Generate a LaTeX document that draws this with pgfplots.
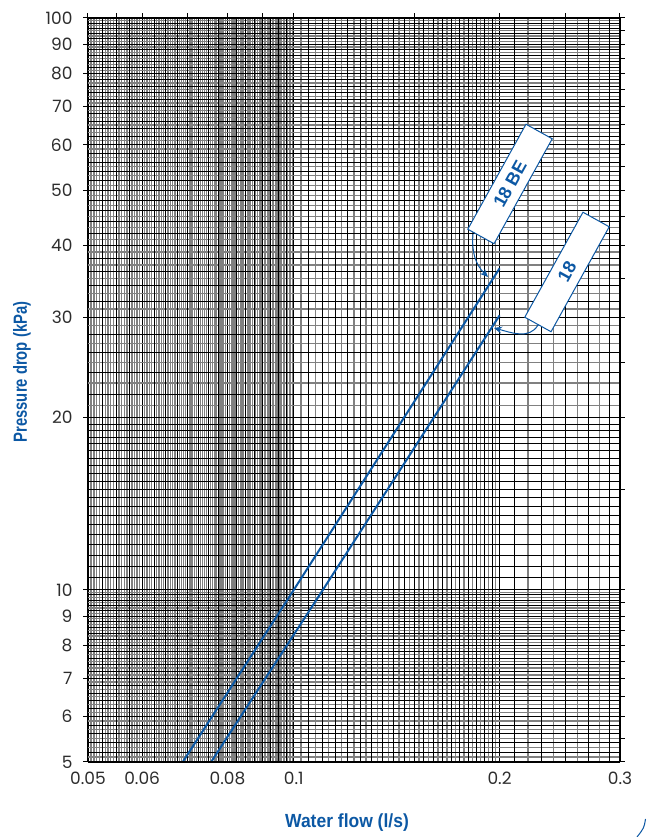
\documentclass[border=0pt]{standalone}
\usepackage{pgfplots}
\pgfplotsset{compat=1.18}
\usepackage{fontspec}
\usetikzlibrary{arrows.meta}
\setmainfont{Poppins}
\newfontfamily\labfont[FakeStretch=0.78]{Liberation Sans}
\newfontfamily\xlabfont[FakeStretch=0.92]{Liberation Sans}
\newfontfamily\boxfont{Liberation Sans}
\definecolor{wblue}{RGB}{12,88,164}
\definecolor{ticktext}{RGB}{45,45,45}

\begin{document}
\begin{tikzpicture}
\path[use as bounding box] (-88pt,-75pt) rectangle (560pt,762pt);
\begin{axis}[
  at={(0pt,0pt)}, anchor=south west,
  scale only axis, width=532pt, height=744pt,
  xmode=log, ymode=log,
  xmin=0.05, xmax=0.3, ymin=5, ymax=100,
  xtick={0.05,0.06,0.08,0.1,0.2,0.3},
  xticklabels={0.05,0.06,0.08,0.1,0.2,0.3},
  ytick={5,6,7,8,9,10,20,30,40,50,60,70,80,90,100},
  yticklabels={5,6,7,8,9,10,20,30,40,50,60,70,80,90,100},
  major tick length=0pt, minor tick length=0pt,
  tick label style={font=\fontsize{17}{17}\selectfont, text=ticktext},
  xticklabel style={yshift=-6pt},
  yticklabel style={xshift=-12pt},
  grid=both,
  major grid style={black, line width=0.9pt},
  minor grid style={black!50, line width=1.3pt},
  axis line style={black, line width=1pt},
  minor xtick={
    0.0505,0.051,0.0515,0.052,0.053,0.0535,0.054,0.0545,
    0.0555,0.056,0.0565,0.057,0.058,0.0585,0.059,0.0595,
    0.0605,0.061,0.0615,0.062,0.063,0.0635,0.064,0.0645,
    0.0655,0.066,0.0665,0.067,0.068,0.0685,0.069,0.0695,
    0.0705,0.071,0.0715,0.072,0.073,0.0735,0.074,0.0745,
    0.0755,0.076,0.0765,0.077,0.078,0.0785,0.079,0.0795,
    0.0805,0.081,0.0815,0.082,0.083,0.0835,0.084,0.0845,
    0.0855,0.086,0.0865,0.087,0.088,0.0885,0.089,0.0895,
    0.0905,0.091,0.0915,0.092,0.093,0.0935,0.094,0.0945,
    0.0955,0.096,0.0965,0.097,0.098,0.0985,0.099,0.0995,
    0.1025,0.1075,0.1125,0.1175,0.1225,0.1275,0.1325,0.1375,0.1425,0.1475,
    0.1525,0.1575,0.1625,0.1675,0.1725,0.1775,0.1825,0.1875,0.1925,0.1975,
    0.22,0.24,0.26,0.28},
  minor ytick={
    5.1,5.3,5.5,5.7,5.9,6.1,6.3,6.5,6.7,6.9,7.1,7.3,7.5,7.7,7.9,
    8.1,8.3,8.5,8.7,8.9,9.1,9.3,9.5,9.7,9.9,
    21,23,25,27,29,31,33,35,37,39,41,43,45,47,49,51,53,55,57,59,
    61,63,65,67,69,71,73,75,77,79,81,83,85,87,89,91,93,95,97,99},
  extra x ticks={
    0.0525,0.055,0.0575,0.0625,0.065,0.0675,0.07,0.0725,0.075,0.0775,
    0.0825,0.085,0.0875,0.09,0.0925,0.095,0.0975,
    0.105,0.11,0.115,0.12,0.125,0.13,0.135,0.14,0.145,0.15,
    0.155,0.16,0.165,0.17,0.175,0.18,0.185,0.19,0.195,
    0.21,0.23,0.25,0.27,0.29},
  extra x tick style={grid=major, xticklabel={\relax}},
  extra y ticks={
    5.2,5.4,5.6,5.8,6.2,6.4,6.6,6.8,7.2,7.4,7.6,7.8,8.2,8.4,8.6,8.8,9.2,9.4,9.6,9.8,
    10.5,11,11.5,12,12.5,13,13.5,14,14.5,15,15.5,16,16.5,17,17.5,18,18.5,19,19.5,
    22,24,26,28,32,34,36,38,42,44,46,48,52,54,56,58,62,64,66,68,
    72,74,76,78,82,84,86,88,92,94,96,98},
  extra y tick style={grid=major, yticklabel={\relax}},
]
% 18 BE
\addplot[wblue, line width=2pt] coordinates {(0.0688,5) (0.1,10) (0.2,36.5)};
% 18
\addplot[wblue, line width=2pt] coordinates {(0.0757,5) (0.1103,10) (0.2,30.2)};
\end{axis}
% tick marks: left and top
\begin{axis}[
  at={(0pt,0pt)}, anchor=south west,
  scale only axis, width=532pt, height=744pt,
  xmode=log, ymode=log,
  xmin=0.05, xmax=0.3, ymin=5, ymax=100,
  axis line style={black, line width=1pt},
  xtick={0.05,0.055,0.06,0.07,0.08,0.09,0.1,0.15,0.2,0.25,0.3},
  ytick={5,6,7,8,9,10,20,30,40,50,60,70,80,90,100},
  xtick pos=right, ytick pos=left,
  xticklabel={\relax}, yticklabel={\relax},
  minor xtick={}, minor ytick={},
  tick align=outside, major tick length=5pt,
  tick style={black, line width=1pt},
]
\end{axis}
% tick marks: right
\begin{axis}[
  at={(0pt,0pt)}, anchor=south west,
  scale only axis, width=532pt, height=744pt,
  xmode=log, ymode=log,
  xmin=0.05, xmax=0.3, ymin=5, ymax=100,
  axis line style={draw=none},
  xtick=\empty,
  ytick={5,5.5,6,6.5,7,7.5,8,8.5,9,9.5,10,15,20,25,30,35,40,45,50,55,60,65,70,75,80,85,90,95,100},
  ytick pos=right,
  yticklabel={\relax},
  minor ytick={},
  tick align=outside, major tick length=5pt,
  tick style={black, line width=1pt},
]
\end{axis}
% axis titles
\node[font=\xlabfont\bfseries\fontsize{19}{19}\selectfont, text=wblue] at (259pt,-61pt) {Water flow (l/s)};
\node[rotate=90, font=\labfont\bfseries\fontsize{19}{19}\selectfont, text=wblue] at (-66pt,390pt) {Pressure drop (kPa)};
% callouts
\node[draw=wblue, fill=white, line width=1pt, rotate=61, minimum width=120pt, minimum height=30pt,
      inner sep=0pt, text=wblue, font=\boxfont\bfseries\fontsize{18}{18}\selectfont] at (422pt,578pt) {18 BE};
\node[draw=wblue, fill=white, line width=1pt, rotate=61, minimum width=120pt, minimum height=30pt,
      inner sep=0pt, text=wblue, font=\boxfont\bfseries\fontsize{18}{18}\selectfont] at (479pt,490pt) {18};
\draw[wblue, line width=1pt, -{Stealth[length=8pt,width=7pt]}] (385pt,528pt) to[out=-95,in=135] (400pt,485pt);
\draw[wblue, line width=1pt, -{Stealth[length=8pt,width=7pt]}] (450pt,437pt) to[out=-120,in=-15] (406pt,434pt);
% page corner arc
\draw[wblue, line width=1pt] (557.5pt,-57pt) .. controls (556pt,-66pt) .. (549pt,-75pt);
\end{tikzpicture}
\end{document}
